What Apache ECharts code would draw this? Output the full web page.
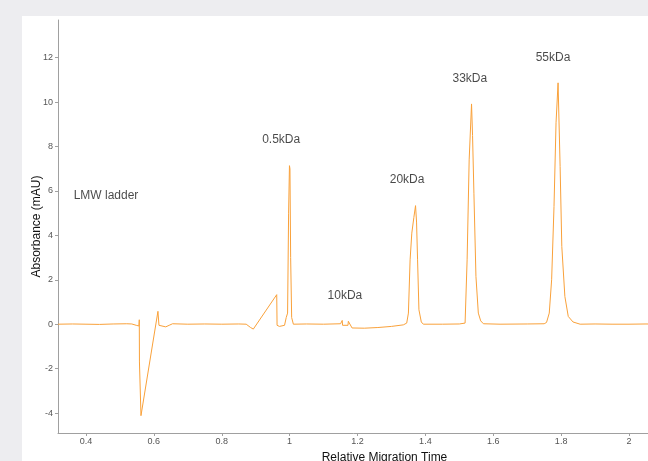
<!DOCTYPE html>
<html>
<head>
<meta charset="utf-8">
<script src="https://cdn.jsdelivr.net/npm/echarts@6/dist/echarts.min.js"></script>
<style>
html,body{margin:0;padding:0;width:648px;height:461px;background:#EDEDF0;overflow:hidden;}
#chart{position:absolute;left:22px;top:16px;width:626px;height:445px;background:#ffffff;}
</style>
</head>
<body>
<div id="chart"></div>
<script>
// Trace: relative migration time (x) and absorbance in mAU (y)
const traceX = [0.3175,0.36,0.40,0.44,0.48,0.52,0.535,0.548,0.556,0.557,0.5575,0.562,0.612,0.615,0.62,0.635,0.645,0.655,0.70,0.75,0.80,0.85,0.872,0.885,0.893,0.962,0.963,0.970,0.985,0.990,0.994,0.997,0.9995,1.001,1.003,1.006,1.011,1.05,1.10,1.15,1.155,1.156,1.172,1.173,1.184,1.22,1.26,1.30,1.335,1.345,1.350,1.355,1.360,1.366,1.371,1.374,1.377,1.381,1.388,1.394,1.45,1.50,1.517,1.523,1.529,1.536,1.539,1.543,1.549,1.556,1.563,1.571,1.62,1.70,1.75,1.757,1.765,1.772,1.779,1.785,1.791,1.797,1.802,1.811,1.821,1.835,1.856,1.90,1.95,2.00,2.05,2.10,2.24];
const traceY = [0.00,0.01,0.00,-0.01,0.01,0.02,0.01,-0.05,-0.08,0.20,-1.70,-4.12,0.58,-0.05,-0.10,-0.12,-0.05,0.02,0.00,0.01,0.00,0.01,0.00,-0.15,-0.22,1.33,-0.05,-0.10,-0.05,0.30,0.50,5.00,7.14,7.00,3.00,0.30,0.00,0.01,0.00,0.02,0.17,-0.05,-0.05,0.13,-0.17,-0.18,-0.15,-0.10,-0.03,0.05,0.50,2.90,4.10,4.80,5.34,4.60,2.90,0.65,0.10,0.00,0.00,0.01,0.05,2.90,7.40,9.92,8.50,5.90,2.15,0.50,0.15,0.02,0.00,0.01,0.02,0.08,0.50,2.00,5.30,9.07,10.87,7.10,3.50,1.25,0.35,0.10,0.00,0.01,0.00,0.00,0.01,0.00,0.00];

// Peak annotations
const labelTexts = ['LMW ladder','0.5kDa','10kDa','20kDa','33kDa','55kDa'];
const labelX = [0.459,0.975,1.163,1.346,1.531,1.776];
const labelY = [5.79,8.32,1.28,6.51,11.07,12.02];

// Axis ticks
const xTicks = [0.4,0.6,0.8,1.0,1.2,1.4,1.6,1.8,2.0];
const yTicks = [-4,-2,0,2,4,6,8,10,12];

const chart = echarts.init(document.getElementById('chart'), null, {renderer:'canvas'});
const traceData = traceX.map((x,i)=>[x,traceY[i]]);
const labelData = labelX.map((x,i)=>({value:[x,labelY[i]], name:labelTexts[i]}));

chart.setOption({
  animation:false,
  backgroundColor:'#ffffff',
  grid:{left:36,top:4,right:-63,bottom:28,containLabel:false,outerBoundsMode:'none'},
  xAxis:{
    type:'value', min:0.3175, max:2.2416,
    name:'Relative Migration Time', nameLocation:'middle', nameGap:19, nameMoveOverlap:false,
    nameTextStyle:{color:'#111',fontSize:12,fontFamily:'Liberation Sans'},
    axisLine:{show:true,onZero:false,lineStyle:{color:'#a0a0a0',width:1}},
    splitLine:{show:false},
    axisTick:{show:true,length:3,lineStyle:{color:'#a0a0a0'},customValues:xTicks},
    axisLabel:{color:'#555',fontSize:9,fontFamily:'Liberation Sans',margin:4,customValues:xTicks,
      formatter:v=>String(Math.round(v*10)/10)}
  },
  yAxis:{
    type:'value', min:-4.9, max:13.7,
    name:'Absorbance (mAU)', nameLocation:'middle', nameGap:15, nameMoveOverlap:false,
    nameTextStyle:{color:'#111',fontSize:12,fontFamily:'Liberation Sans'},
    axisLine:{show:true,onZero:false,lineStyle:{color:'#a0a0a0',width:1}},
    splitLine:{show:false},
    axisTick:{show:true,length:3,lineStyle:{color:'#a0a0a0'},customValues:yTicks},
    axisLabel:{color:'#555',fontSize:9,fontFamily:'Liberation Sans',margin:5,customValues:yTicks}
  },
  series:[
    {type:'line', data:traceData, showSymbol:false, symbol:'none',
     lineStyle:{color:'#F9A13A',width:1}, silent:true, clip:true},
    {type:'scatter', data:labelData, symbolSize:0, silent:true,
     label:{show:true, position:'inside', formatter:p=>p.name,
       color:'#1a1a1a', fontSize:12, fontFamily:'Liberation Sans'}}
  ]
});
</script>
</body>
</html>
